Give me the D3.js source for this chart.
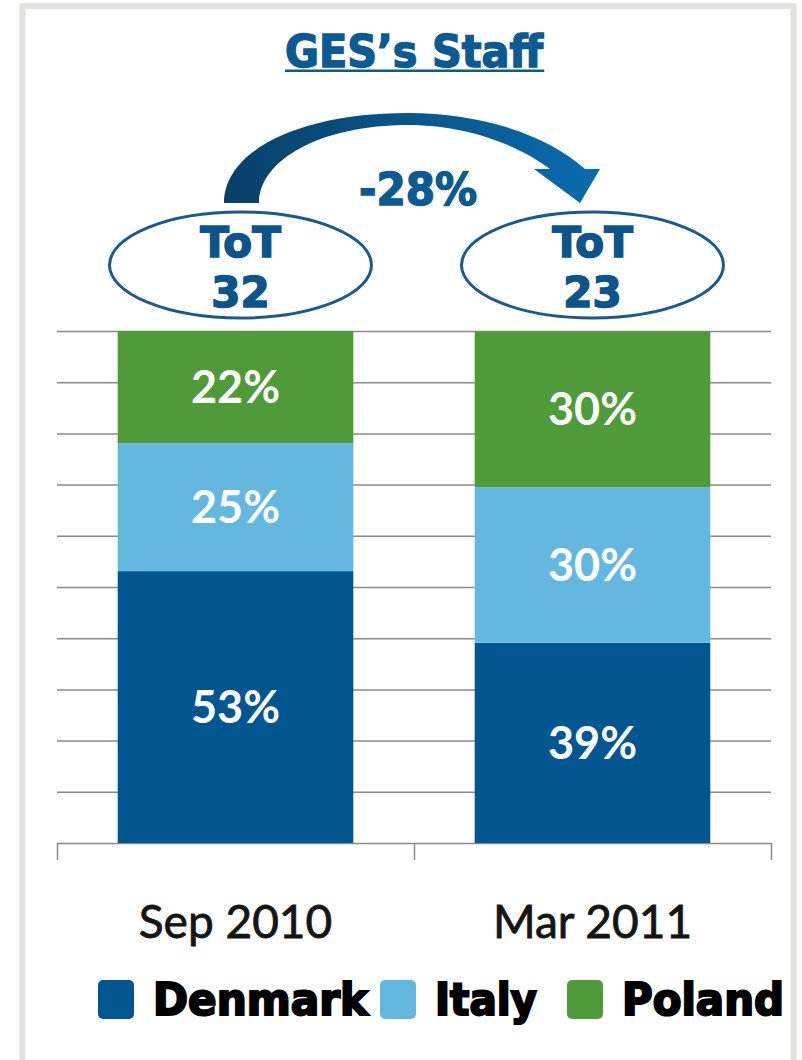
<!DOCTYPE html>
<html>
<head>
<meta charset="utf-8">
<script src="https://cdn.jsdelivr.net/npm/d3@7/dist/d3.min.js"></script>
<style>
body { margin: 0; background: #fff; }
</style>
</head>
<body>
<div id="chart"></div>
<script>
// Data (share of staff, %)
var categories = ["Sep 2010", "Mar 2011"];
var countries = ["Denmark", "Italy", "Poland"];
var denmark = [53.1, 39.1];
var italy = [25.0, 30.4];
var poland = [21.9, 30.4];
var totals = [32, 23];
var titleText = "GES\u2019s Staff";

var COLORS = ["#02568f", "#64b8e0", "#4f9b3a"];
var BLUE = "#0b5a91";

var width = 802, height = 1060;
var plot = {left: 57, right: 771, top: 331, bottom: 843};

var rows = categories.map(function (c, i) {
    return {cat: c, Denmark: denmark[i], Italy: italy[i], Poland: poland[i]};
});

var svg = d3.select("#chart")
    .append("svg")
        .attr("width", width)
        .attr("height", height);

// frame
svg.append("rect")
    .attr("x", 22.5)
    .attr("y", 6)
    .attr("width", 771)
    .attr("height", height + 20)
    .attr("fill", "none")
    .attr("stroke", "#e2e3df")
    .attr("stroke-width", 6);

// Set the ranges
var x = d3.scaleBand()
    .domain(categories)
    .range([plot.left, plot.right])
    .paddingInner(0.34)
    .paddingOuter(0.17);

var y = d3.scaleLinear()
    .domain([0, 100])
    .range([plot.bottom, plot.top]);

function cx(i) { return x(categories[i]) + x.bandwidth() / 2; }

// grid lines
var grid = svg.append("g")
    .attr("class", "grid")
    .attr("transform", "translate(" + plot.left + ",0)")
    .call(d3.axisLeft(y)
        .tickValues(y.ticks(10).slice(1))
        .tickSize(-(plot.right - plot.left))
        .tickFormat(""));
grid.select(".domain").remove();
grid.selectAll(".tick line")
    .attr("stroke", "#8a8a8a")
    .attr("stroke-width", 1.5);

// bottom axis with ticks on the band edges
var xEdge = d3.scaleLinear()
    .domain([0, categories.length])
    .range([plot.left, plot.right]);
var xAxis = svg.append("g")
    .attr("class", "x axis")
    .attr("transform", "translate(0," + plot.bottom + ")")
    .call(d3.axisBottom(xEdge)
        .tickValues(d3.range(0, categories.length + 1))
        .tickSize(17)
        .tickSizeOuter(0)
        .tickFormat(""));
xAxis.selectAll("path, line")
    .attr("stroke", "#8a8a8a")
    .attr("stroke-width", 1.5);

// stacked bars
var series = d3.stack().keys(countries)(rows);

var layer = svg.selectAll("g.layer")
    .data(series)
    .enter().append("g")
    .attr("class", "layer")
    .attr("fill", function (d, i) { return COLORS[i]; });

layer.selectAll("rect")
    .data(function (d) { return d; })
    .enter().append("rect")
    .attr("x", function (d) { return x(d.data.cat); })
    .attr("y", function (d) { return y(d[1]); })
    .attr("width", x.bandwidth())
    .attr("height", function (d) { return y(d[0]) - y(d[1]); });

layer.selectAll("text")
    .data(function (d) { return d; })
    .enter().append("text")
    .attr("x", function (d) { return x(d.data.cat) + x.bandwidth() / 2; })
    .attr("y", function (d) { return (y(d[0]) + y(d[1])) / 2 + 16; })
    .attr("text-anchor", "middle")
    .attr("fill", "#fff")
    .style("font-family", "Lato, 'Open Sans', sans-serif")
    .style("font-weight", "bold")
    .style("font-size", "45px")
    .text(function (d) { return Math.round(d[1] - d[0]) + "%"; });

// category labels
svg.selectAll("text.cat")
    .data(categories)
    .enter().append("text")
    .attr("class", "cat")
    .attr("x", function (d) { return x(d) + x.bandwidth() / 2; })
    .attr("y", 938)
    .attr("text-anchor", "middle")
    .attr("fill", "#151515")
    .attr("stroke", "#151515")
    .attr("stroke-width", 0.8)
    .style("font-family", "Lato, 'Open Sans', sans-serif")
    .style("font-size", "46px")
    .text(function (d) { return d; });

// title with underline
var title = svg.append("text")
    .attr("x", (plot.left + plot.right) / 2)
    .attr("y", 67)
    .attr("text-anchor", "middle")
    .attr("fill", BLUE)
    .attr("stroke", BLUE)
    .attr("stroke-width", 1.4)
    .attr("textLength", 258)
    .attr("lengthAdjust", "spacingAndGlyphs")
    .style("font-family", "'DejaVu Sans Condensed', 'DejaVu Sans', sans-serif")
    .style("font-weight", "bold")
    .style("font-size", "45px")
    .text(titleText);
var tb = title.node().getBBox();
svg.append("rect")
    .attr("x", tb.x)
    .attr("y", 69.5)
    .attr("width", tb.width)
    .attr("height", 2.5)
    .attr("fill", BLUE);

// curved arrow between the two totals
var grad = svg.append("defs").append("linearGradient")
    .attr("id", "arrowGrad")
    .attr("gradientUnits", "userSpaceOnUse")
    .attr("x1", cx(0) - 12).attr("x2", cx(1) + 8)
    .attr("y1", 0).attr("y2", 0);
grad.append("stop").attr("offset", "0%").attr("stop-color", "#073f68");
grad.append("stop").attr("offset", "100%").attr("stop-color", "#0a6cad");

var a0 = cx(0), a1 = cx(1), mid = (a0 + a1) / 2;
var arrow = d3.path();
arrow.moveTo(a0 - 11.5, 203);
arrow.bezierCurveTo(a0 - 11.5, 150, a0 + 65, 113, mid - 6, 113);
arrow.bezierCurveTo(mid + 67, 113, a1 - 45, 135, a1 - 7.5, 169);
arrow.lineTo(a1 + 7.5, 169);
arrow.lineTo(a1 - 12.5, 203);
arrow.lineTo(a1 - 58.5, 169);
arrow.lineTo(a1 - 42.5, 169);
arrow.bezierCurveTo(a1 - 70, 148, mid + 57, 125, mid - 6, 125);
arrow.bezierCurveTo(mid - 93, 125, a0 + 23.5, 160, a0 + 23.5, 203);
arrow.closePath();
svg.append("path")
    .attr("d", arrow.toString())
    .attr("fill", "url(#arrowGrad)");

var change = Math.round((totals[1] - totals[0]) / totals[0] * 100);
svg.append("text")
    .attr("x", mid + 4)
    .attr("y", 205)
    .attr("text-anchor", "middle")
    .attr("fill", BLUE)
    .attr("stroke", BLUE)
    .attr("stroke-width", 1.4)
    .attr("textLength", 118)
    .attr("lengthAdjust", "spacingAndGlyphs")
    .style("font-family", "'DejaVu Sans Condensed', 'DejaVu Sans', sans-serif")
    .style("font-weight", "bold")
    .style("font-size", "45px")
    .text(change + "%");

// total ellipses
var tot = svg.selectAll("g.tot")
    .data(totals)
    .enter().append("g")
    .attr("class", "tot")
    .attr("transform", function (d, i) { return "translate(" + (cx(i) + (i === 0 ? 5 : 0)) + ",265)"; });

tot.append("ellipse")
    .attr("rx", 131)
    .attr("ry", 53)
    .attr("fill", "#fff")
    .attr("stroke", "#1d5a8c")
    .attr("stroke-width", 3);

tot.append("text")
    .attr("y", -8)
    .attr("text-anchor", "middle")
    .attr("fill", "#0d5488")
    .attr("stroke", "#0d5488")
    .attr("stroke-width", 1.6)
    .style("font-family", "'DejaVu Sans', Verdana, sans-serif")
    .style("font-weight", "bold")
    .style("font-size", "42px")
    .text("ToT");

tot.append("text")
    .attr("y", 42)
    .attr("text-anchor", "middle")
    .attr("fill", "#0d5488")
    .attr("stroke", "#0d5488")
    .attr("stroke-width", 1.6)
    .style("font-family", "'DejaVu Sans', Verdana, sans-serif")
    .style("font-weight", "bold")
    .style("font-size", "42px")
    .text(function (d) { return d; });

// legend
var legendSlots = [98, 380, 567];
var legendWidths = [215, 102, 162];
var legend = svg.selectAll("g.legend")
    .data(countries)
    .enter().append("g")
    .attr("class", "legend")
    .attr("transform", function (d, i) { return "translate(" + legendSlots[i] + ",980)"; });

legend.append("rect")
    .attr("width", 36)
    .attr("height", 39)
    .attr("rx", 5)
    .attr("fill", function (d, i) { return COLORS[i]; });

legend.append("text")
    .attr("x", 55)
    .attr("y", 35)
    .attr("fill", "#000")
    .attr("stroke", "#000")
    .attr("stroke-width", 2)
    .attr("textLength", function (d, i) { return legendWidths[i]; })
    .attr("lengthAdjust", "spacingAndGlyphs")
    .style("font-family", "'DejaVu Sans Condensed', 'DejaVu Sans', sans-serif")
    .style("font-weight", "bold")
    .style("font-size", "44px")
    .text(function (d) { return d; });
</script>
</body>
</html>
